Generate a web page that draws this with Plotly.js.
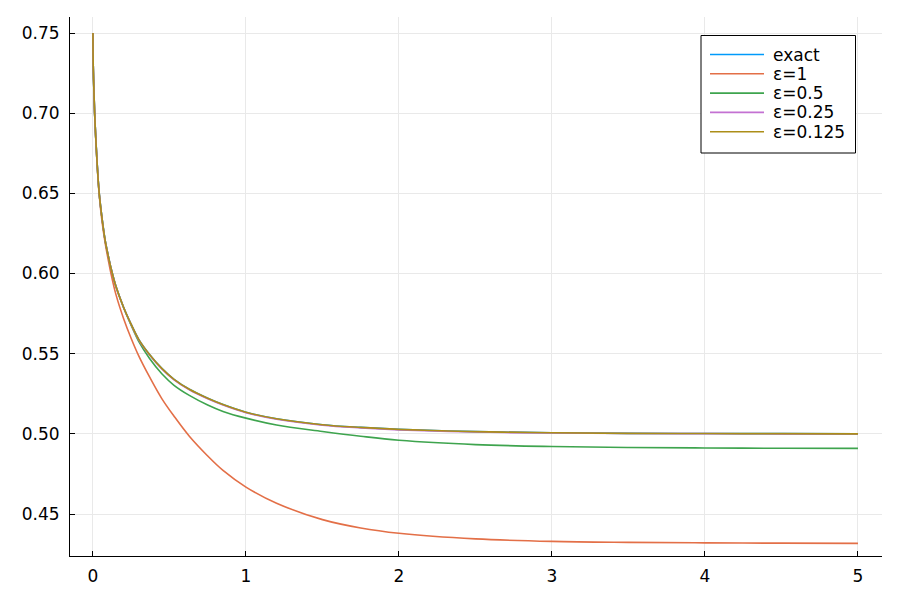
<!DOCTYPE html>
<html>
<head>
<meta charset="utf-8">
<script src="https://cdn.plot.ly/plotly-3.0.1.min.js"></script>
<style>html,body{margin:0;padding:0;background:#fff;}#plot{width:900px;height:600px;}</style>
</head>
<body>
<div id="plot"></div>
<script>
const t       = [0, 0.001, 0.004, 0.011, 0.026, 0.041, 0.06, 0.08, 0.1, 0.12, 0.15, 0.2, 0.25, 0.3, 0.37, 0.45, 0.53, 0.63, 0.75, 0.85, 1.0, 1.2, 1.5, 1.75, 2, 2.5, 3, 3.5, 4, 4.5, 5];
const exact   = [0.75, 0.735, 0.721, 0.700, 0.671, 0.650, 0.634, 0.6205, 0.6110, 0.6025, 0.5920, 0.5790, 0.5683, 0.5588, 0.5495, 0.5408, 0.5340, 0.5278, 0.5222, 0.5183, 0.5135, 0.5094, 0.5057, 0.5040, 0.5028, 0.5014, 0.5007, 0.5003, 0.5002, 0.5001, 0.5000];
const eps1    = [0.75, 0.735, 0.721, 0.700, 0.670, 0.649, 0.632, 0.619, 0.6085, 0.5990, 0.5870, 0.5720, 0.5595, 0.5485, 0.5355, 0.5220, 0.5110, 0.4985, 0.4862, 0.4772, 0.4668, 0.4567, 0.4465, 0.4413, 0.4380, 0.4345, 0.4329, 0.4323, 0.4320, 0.4318, 0.4317];
const eps05   = [0.75, 0.735, 0.721, 0.700, 0.671, 0.650, 0.634, 0.6205, 0.6110, 0.6025, 0.5920, 0.5788, 0.5677, 0.5575, 0.5470, 0.5375, 0.5303, 0.5240, 0.5180, 0.5140, 0.5098, 0.5055, 0.5015, 0.4985, 0.4960, 0.4933, 0.4921, 0.4915, 0.4912, 0.4910, 0.4909];
const eps025  = [0.75, 0.735, 0.721, 0.700, 0.671, 0.650, 0.634, 0.6205, 0.6110, 0.6025, 0.5920, 0.5790, 0.5681, 0.5585, 0.5492, 0.5405, 0.5337, 0.5275, 0.5219, 0.5180, 0.5132, 0.5091, 0.5054, 0.5037, 0.5025, 0.5011, 0.5005, 0.5002, 0.5001, 0.5000, 0.4999];
const eps0125 = [0.75, 0.735, 0.721, 0.700, 0.671, 0.650, 0.634, 0.6205, 0.6110, 0.6025, 0.5920, 0.5790, 0.5683, 0.5588, 0.5495, 0.5408, 0.5340, 0.5278, 0.5222, 0.5183, 0.5135, 0.5094, 0.5057, 0.5040, 0.5028, 0.5014, 0.5007, 0.5003, 0.5002, 0.5001, 0.5000];

const names = ["exact", "ε=1", "ε=0.5", "ε=0.25", "ε=0.125"];
const series = [exact, eps1, eps05, eps025, eps0125];
const colors = ["#009AFA", "#E36F47", "#3EA44E", "#C371D2", "#AC8E18"];
const xTicks = [0, 1, 2, 3, 4, 5];
const yTicks = [0.45, 0.50, 0.55, 0.60, 0.65, 0.70, 0.75];

const traces = series.map((y, i) => ({
  x: t, y: y, name: names[i], type: "scatter", mode: "lines",
  line: {color: colors[i], width: 1.6, shape: "spline", smoothing: 1}
}));

const M = {l: 70, r: 18, t: 17, b: 44};
const W = 900, H = 600;
const pw = W - M.l - M.r, ph = H - M.t - M.b;
const px2x = p => (p - M.l) / pw;
const py2y = p => (H - M.b - p) / ph;

// legend drawn as shapes + annotations (box, sample lines, labels)
const shapes = [{type: "rect", xref: "paper", yref: "paper",
  x0: px2x(701), x1: px2x(855.5), y0: py2y(153), y1: py2y(35.5),
  line: {color: "#000", width: 1}, fillcolor: "#fff", layer: "above"}];
const annotations = [];
names.forEach((n, i) => {
  const py = 54.5 + i * 19.3;
  shapes.push({type: "line", xref: "paper", yref: "paper",
    x0: px2x(710), x1: px2x(764), y0: py2y(py), y1: py2y(py),
    line: {color: colors[i], width: 1.6}, layer: "above"});
  annotations.push({xref: "paper", yref: "paper", x: px2x(771), y: py2y(py),
    xanchor: "left", yanchor: "middle", showarrow: false, text: n,
    font: {family: "DejaVu Sans", size: 17, color: "#000"}});
});

const axisCommon = {
  showline: true, linecolor: "#000", linewidth: 1, mirror: false,
  showgrid: true, gridcolor: "#e9e9e9", gridwidth: 1, zeroline: false,
  ticks: "inside", ticklen: 5, tickcolor: "#000", tickwidth: 1,
  tickfont: {family: "DejaVu Sans", size: 17, color: "#000"}
};

const layout = {
  width: W, height: H,
  margin: M,
  paper_bgcolor: "#fff", plot_bgcolor: "#fff",
  showlegend: false,
  shapes: shapes, annotations: annotations,
  xaxis: Object.assign({}, axisCommon, {range: [-0.15, 5.157], tickvals: xTicks, ticktext: xTicks.map(String), ticklabelstandoff: 5}),
  yaxis: Object.assign({}, axisCommon, {range: [0.4238, 0.7600], tickvals: yTicks, ticktext: yTicks.map(v => v.toFixed(2)), ticklabelstandoff: 6})
};

Plotly.newPlot("plot", traces, layout, {staticPlot: true});
</script>
</body>
</html>
